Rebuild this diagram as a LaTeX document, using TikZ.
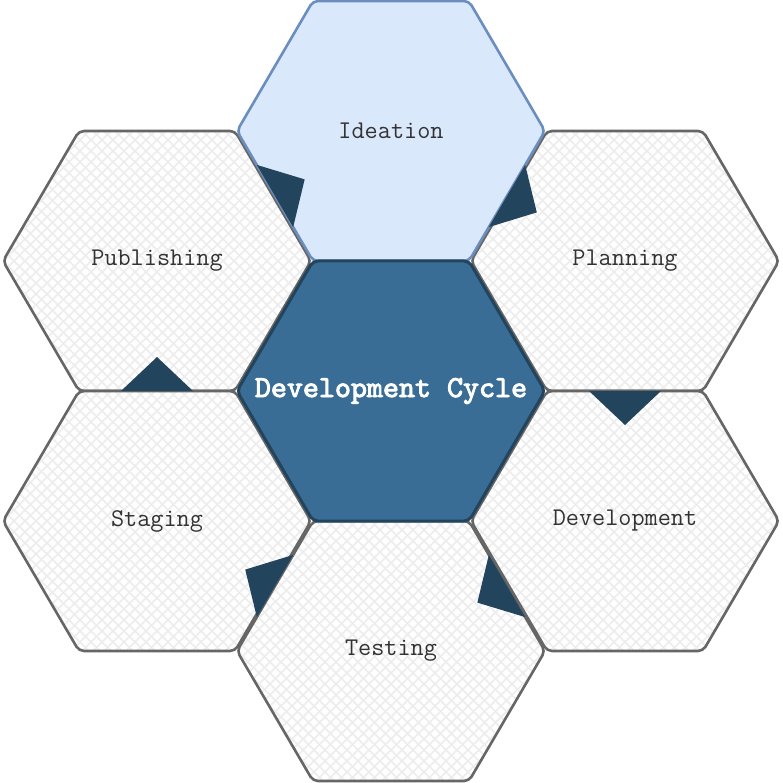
\documentclass[tikz,border=0pt]{standalone}
\usepackage{fontspec}
\newfontfamily\coremono{lmmono10-regular.otf}[FakeBold=3]
\usetikzlibrary{calc}
\definecolor{hexgray}{HTML}{666666}
\definecolor{hatchgray}{HTML}{EDEDED}
\definecolor{ideafill}{HTML}{DAE8FC}
\definecolor{ideastroke}{HTML}{6C8EBF}
\definecolor{corefill}{HTML}{396D96}
\definecolor{corestroke}{HTML}{23445D}
\definecolor{arrowfill}{HTML}{23445D}
\definecolor{labelgray}{HTML}{333333}
\tikzset{
  hexline/.style={line width=2.6pt, rounded corners=5pt, line join=round},
  hatchline/.style={draw=hatchgray, line width=1.6pt},
  hexlabel/.style={font=\ttfamily\fontsize{25.5}{29}\selectfont, text=labelgray, inner sep=0pt},
  corelabel/.style={font=\coremono\fontsize{30.5}{34}\selectfont, text=white, inner sep=0pt},
  arrowtri/.style={fill=arrowfill},
}
% corners of a flat-topped hexagon: name, cx, cy
\newcommand\mkhexcorners[3]{%
  \coordinate (#1-E)  at (#2+154,#3);
  \coordinate (#1-NE) at (#2+78,#3-130);
  \coordinate (#1-NW) at (#2-78,#3-130);
  \coordinate (#1-W)  at (#2-154,#3);
  \coordinate (#1-SW) at (#2-78,#3+130);
  \coordinate (#1-SE) at (#2+78,#3+130);
}
\newcommand\hexoutline[1]{(#1-W) -- (#1-NW) -- (#1-NE) -- (#1-E) -- (#1-SE) -- (#1-SW) -- cycle}
% hatched hexagon: name, cx, cy, label
\newcommand\hatchhex[4]{%
  \mkhexcorners{#1}{#2}{#3}
  \begin{scope}
    \clip \hexoutline{#1};
    \fill[white] \hexoutline{#1};
    \foreach \d in {-330,-319,...,330} {
      \draw[hatchline] (#2+\d-170,#3-170) -- (#2+\d+170,#3+170);
      \draw[hatchline] (#2+\d+170,#3-170) -- (#2+\d-170,#3+170);
    }
  \end{scope}
  \draw[hexline, draw=hexgray] \hexoutline{#1};
  \node[hexlabel] (#1) at (#2,#3) {#4};
}
% triangle arrowhead on shared edge P--Q, pointing toward target T
\newcommand\edgetri[4]{%
  \coordinate (#1) at ($(#2)!0.5!(#3)$);
  \fill[arrowtri] ($(#1)!36pt!(#2)$) -- ($(#1)!34pt!(#4)$) -- ($(#1)!36pt!(#3)$) -- cycle;
}
\begin{document}
\begin{tikzpicture}[x=1pt,y=-1pt]
\useasboundingbox (0,0) rectangle (783,783);
\fill[white] (0,0) rectangle (783,783);

\hatchhex{pub}{157}{261}{Publishing}
\hatchhex{pla}{625}{261}{Planning}
\hatchhex{sta}{157}{521}{Staging}
\hatchhex{dev}{625}{521}{Development}
\hatchhex{tes}{391}{651}{Testing}

% Ideation
\mkhexcorners{ide}{391}{131}
\filldraw[hexline, fill=ideafill, draw=ideastroke] \hexoutline{ide};
\node[hexlabel] (ide) at (391,131) {Ideation};

% Core
\mkhexcorners{core}{391}{391}
\filldraw[hexline, line width=3pt, fill=corefill, draw=corestroke] \hexoutline{core};
\node[corelabel] (core) at (391,391) {Development Cycle};

% Arrowheads of the cycle
\edgetri{m1}{ide-E}{ide-SE}{pla}
\edgetri{m2}{pla-SW}{pla-SE}{dev}
\edgetri{m3}{tes-NE}{tes-E}{tes}
\edgetri{m4}{tes-NW}{tes-W}{sta}
\edgetri{m5}{sta-NW}{sta-NE}{pub}
\edgetri{m6}{ide-W}{ide-SW}{ide}
\end{tikzpicture}
\end{document}
